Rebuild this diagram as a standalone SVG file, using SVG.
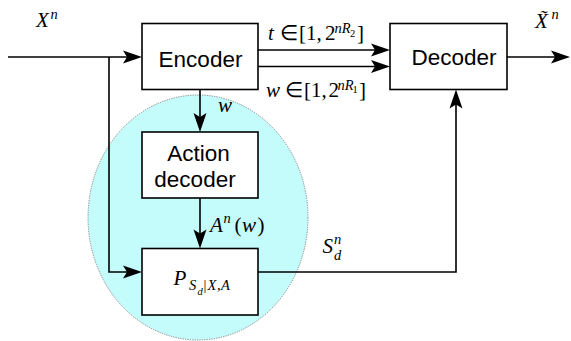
<svg xmlns="http://www.w3.org/2000/svg" width="571" height="341" viewBox="0 0 571 341">
<style>
.box{fill:#fff;stroke:#000;stroke-width:1.6}
.lbl{font-family:"Liberation Sans",Arial,sans-serif;font-size:22.5px;fill:#000;text-anchor:middle}
.m{font-family:"Liberation Serif","Times New Roman",serif;font-size:21px;fill:#000}
.i{font-style:italic}
.s{font-size:14.5px}
.ss{font-size:10.5px}
.wire{fill:none;stroke:#000;stroke-width:1.6}
</style>
<defs>
<marker id="ah" viewBox="-20 -8 21 16" refX="-7" refY="0" markerWidth="21" markerHeight="16" markerUnits="userSpaceOnUse" orient="auto">
<path d="M0,0 L-19,-6.5 L-15,0 L-19,6.5 Z" fill="#000"/>
</marker>
</defs>
<rect width="571" height="341" fill="#fff"/>
<g id="action-region">
<ellipse cx="198" cy="217.5" rx="110" ry="122.5" fill="#c4fbfb" stroke="#777" stroke-width="0.9" stroke-dasharray="1.2 1.2"/>
</g>
<g id="connectors">
<path class="wire" d="M8,57 H135" marker-end="url(#ah)"/>
<path class="wire" d="M109,57 V272 H135" marker-end="url(#ah)"/>
<path class="wire" d="M258,50 H383" marker-end="url(#ah)"/>
<path class="wire" d="M258,66.5 H383" marker-end="url(#ah)"/>
<path class="wire" d="M507,57 H563" marker-end="url(#ah)"/>
<path class="wire" d="M200,89.5 V125" marker-end="url(#ah)"/>
<path class="wire" d="M200,198 V241.5" marker-end="url(#ah)"/>
<path class="wire" d="M258,272 H456 V96.5" marker-end="url(#ah)"/>
</g>
<g id="encoder">
<rect class="box" x="142" y="23.5" width="116" height="66"/>
<text class="lbl" x="200.5" y="66.5">Encoder</text>
</g>
<g id="decoder">
<rect class="box" x="390" y="23.5" width="117" height="66"/>
<text class="lbl" x="454" y="65">Decoder</text>
</g>
<g id="action-decoder">
<rect class="box" x="142" y="132" width="116" height="66"/>
<text class="lbl" x="198.5" y="161">Action</text>
<text class="lbl" x="195" y="187">decoder</text>
</g>
<g id="channel">
<rect class="box" x="142" y="248.5" width="116" height="66.5"/>
<text class="m"><tspan class="i" x="173.5" y="285">P</tspan><tspan class="i s" x="189" y="290">S</tspan><tspan class="i ss" x="197.5" y="294.5">d</tspan><tspan class="s" x="203.5" y="290">|</tspan><tspan class="i s" x="207.5" y="290">X</tspan><tspan class="s" x="217" y="290">,</tspan><tspan class="i s" x="221" y="290">A</tspan></text>
</g>
<g id="labels">
<text class="m"><tspan class="i" x="36" y="27">X</tspan><tspan class="i s" x="50.5" y="19">n</tspan></text>
<text class="m"><tspan class="i" x="535" y="28">X̃</tspan><tspan class="i s" x="551.5" y="19">n</tspan></text>
<text class="m"><tspan class="i" x="268" y="40">t</tspan><tspan x="280" y="40">∈</tspan><tspan x="299" y="40">[1,</tspan><tspan x="325" y="40">2</tspan><tspan class="i s" x="334.5" y="33">nR</tspan><tspan class="ss" x="350" y="36.5">2</tspan><tspan x="357" y="40">]</tspan></text>
<text class="m"><tspan class="i" x="266" y="96.5">w</tspan><tspan x="284.5" y="96.5">∈</tspan><tspan x="304" y="96.5">[1,</tspan><tspan x="328.5" y="96.5">2</tspan><tspan class="i s" x="337.5" y="89.5">nR</tspan><tspan class="ss" x="352.5" y="93">1</tspan><tspan x="359" y="96.5">]</tspan></text>
<text class="m i" x="218" y="111.5">w</text>
<text class="m"><tspan class="i" x="210" y="231.5">A</tspan><tspan class="i s" x="223.5" y="223">n</tspan><tspan x="234.5" y="231.5">(</tspan><tspan class="i" x="242" y="231.5">w</tspan><tspan x="257.5" y="231.5">)</tspan></text>
<text class="m"><tspan class="i" x="322.5" y="252.5">S</tspan><tspan class="i s" x="334" y="243.5">n</tspan><tspan class="i s" x="334" y="260">d</tspan></text>
</g>
</svg>
